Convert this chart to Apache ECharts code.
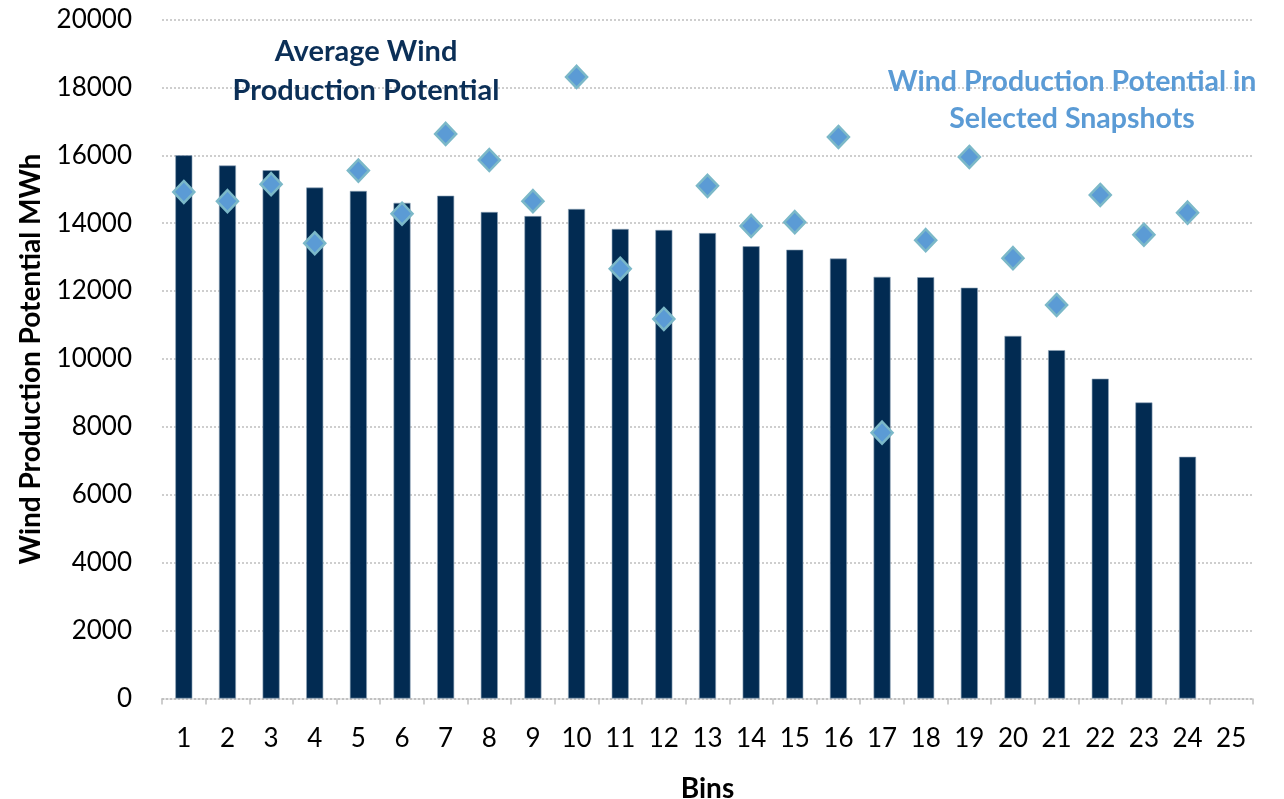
<!DOCTYPE html>
<html><head><meta charset="utf-8">
<script src="https://cdn.jsdelivr.net/npm/echarts@6/dist/echarts.min.js"></script>
<style>html,body{margin:0;padding:0;background:#fff}#c{width:1284px;height:799px}</style>
</head><body><div id="c"></div>
<script>
var bins = ['1','2','3','4','5','6','7','8','9','10','11','12','13','14','15','16','17','18','19','20','21','22','23','24','25'];
var averageWind = [16000,15700,15560,15050,14950,14600,14810,14330,14210,14420,13830,13800,13710,13320,13220,12960,12420,12410,12100,10680,10260,9420,8720,7120];
var snapshotWind = [14920,14650,15150,13410,15550,14280,16630,15860,14650,18310,12660,11180,15100,13920,14030,16540,7830,13500,15950,12970,11590,14830,13660,14310];
var yTicks = {min:0, max:20000, interval:2000};

var FONT = 'Lato';
var chart = echarts.init(document.getElementById('c'));
chart.setOption({
  animation:false,
  textStyle:{fontFamily:FONT},
  title:[
    {text:'Average Wind\nProduction Potential', left:361, top:27, textAlign:'center',
     textStyle:{fontFamily:FONT,fontSize:29,fontWeight:'bold',color:'#0B2F57',lineHeight:39,align:'center'}},
    {text:'Wind Production Potential in\nSelected Snapshots', left:1067, top:58, textAlign:'center',
     textStyle:{fontFamily:FONT,fontSize:28.5,fontWeight:'bold',color:'#5B9BD5',lineHeight:37,align:'center'}}
  ],
  grid:{left:162,right:31,top:19.5,bottom:100.5,containLabel:false,outerBoundsMode:'none'},
  xAxis:{type:'category',data:bins,boundaryGap:true,
    name:'Bins',nameLocation:'middle',nameGap:76,
    nameTextStyle:{fontFamily:FONT,fontSize:28,fontWeight:'bold',color:'#000'},
    axisLine:{lineStyle:{color:'#BFBFBF',width:1.5,type:[2,2]}},
    axisTick:{show:true,alignWithLabel:false,length:6,lineStyle:{color:'#BFBFBF',width:1.5}},
    axisLabel:{fontFamily:FONT,fontSize:26,color:'#000',margin:27},
    splitLine:{show:false}},
  yAxis:{type:'value',min:yTicks.min,max:yTicks.max,interval:yTicks.interval,
    name:'Wind Production Potential MWh',nameLocation:'middle',nameGap:117,nameRotate:90,
    nameTextStyle:{fontFamily:FONT,fontSize:28,fontWeight:'bold',color:'#000'},
    axisLine:{show:false},axisTick:{show:false},
    axisLabel:{fontFamily:FONT,fontSize:26,color:'#000',margin:30,formatter:function(v){return String(v);}},
    splitLine:{lineStyle:{color:'#BFBFBF',width:1.5,type:[2,2]}}},
  series:[
    {type:'bar',data:averageWind,barWidth:17,
     itemStyle:{color:'#022B52',borderColor:'#8FA4B8',borderWidth:0.6},z:2},
    {type:'scatter',data:snapshotWind,symbol:'diamond',symbolSize:[21,22],
     itemStyle:{color:'#5B9BD5',borderColor:'#7BB8C8',borderWidth:2.5,opacity:1},z:3}
  ]
});
</script></body></html>
